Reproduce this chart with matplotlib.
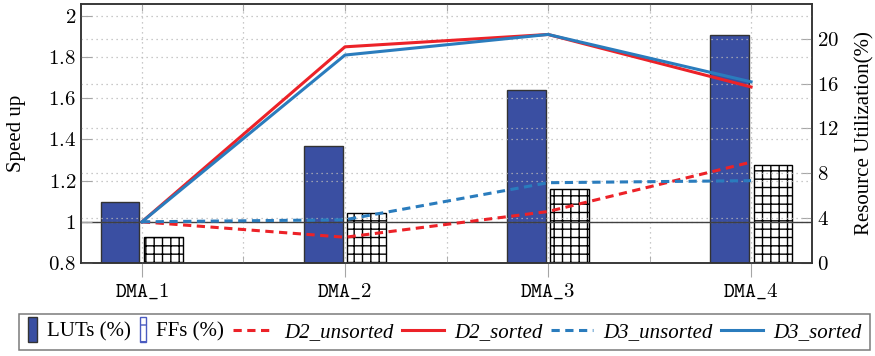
import matplotlib
matplotlib.use("Agg")
import matplotlib.pyplot as plt
import numpy as np
from matplotlib.patches import Rectangle
from matplotlib.legend_handler import HandlerBase

plt.rcParams['mathtext.fontset'] = 'cm'
plt.rcParams['font.family'] = ['Liberation Serif', 'DejaVu Serif']
plt.rcParams['hatch.linewidth'] = 1.0

# ---- data ----
designs = ["DMA_1", "DMA_2", "DMA_3", "DMA_4"]
luts_pct = [5.4, 10.4, 15.4, 20.3]
ffs_pct = [2.3, 4.5, 6.6, 8.7]
d2_unsorted = [1.0, 0.925, 1.05, 1.29]
d2_sorted = [1.0, 1.85, 1.91, 1.655]
d3_unsorted = [1.0, 1.01, 1.19, 1.20]
d3_sorted = [1.0, 1.81, 1.91, 1.68]
speed_ticks = [0.8, 1.0, 1.2, 1.4, 1.6, 1.8, 2.0]
util_ticks = [0, 4, 8, 12, 16, 20]

RED = "#ec2228"
BLUE = "#2a7cbd"
BAR_BLUE = "#3a4fa2"
GRID = dict(color="0.72", linestyle=(0, (1, 3)), linewidth=0.9)

fig = plt.figure(figsize=(8.75, 3.56), dpi=100)
ax = fig.add_axes([81 / 875, 1 - 263 / 356, (812 - 81) / 875, (263 - 4) / 356])
ax2 = ax.twinx()
ax.set_zorder(ax2.get_zorder() + 1)
ax.patch.set_visible(False)

x = np.arange(1, len(designs) + 1)
bw = 0.19
off = 0.107

# resource utilisation bars (right axis)
b_lut = ax2.bar(x - off, luts_pct, width=bw, color=BAR_BLUE, edgecolor="0.2",
                linewidth=1.0, zorder=2, label="LUTs (%)")
b_ff = ax2.bar(x + off, ffs_pct, width=bw, facecolor="white", edgecolor="black",
               hatch="++", linewidth=1.0, zorder=2, label="FFs (%)")

ax2.set_ylim(0, 23.1)
ax2.set_yticks(util_ticks)
ax2.set_yticklabels([f"${v}$" for v in util_ticks])
for v in util_ticks[1:]:
    ax2.axhline(v, zorder=3, **GRID)

# speed-up lines (left axis)
ax.axhline(1.0, color="0.25", linewidth=1.0, zorder=1)
dash = (0, (2.7, 1.8))
l1, = ax.plot(x, d2_unsorted, color=RED, lw=2.2, linestyle=dash, label="D2_unsorted", zorder=5)
l2, = ax.plot(x, d2_sorted, color=RED, lw=2.2, label="D2_sorted", zorder=5)
l3, = ax.plot(x, d3_unsorted, color=BLUE, lw=2.2, linestyle=dash, label="D3_unsorted", zorder=5)
l4, = ax.plot(x, d3_sorted, color=BLUE, lw=2.2, label="D3_sorted", zorder=5)

ax.set_xlim(0.7, 4.3)
ax.set_ylim(0.8, 2.058)
ax.set_yticks(speed_ticks)
ax.set_yticklabels(["$0.8$", "$1$", "$1.2$", "$1.4$", "$1.6$", "$1.8$", "$2$"])
for v in speed_ticks[1:]:
    ax.axhline(v, zorder=0.5, **GRID)
for v in np.arange(1.0, 4.01, 0.5):
    ax.axvline(v, zorder=0.5, **GRID)

ax.set_xticks(x)
ax.set_xticklabels([r"$\mathtt{" + d.replace("_", r"\_") + "}$" for d in designs])
ax.set_xticks([1.5, 2.5, 3.5], minor=True)
ax.tick_params(axis="x", which="major", direction="out", length=10, color="0.65",
               labelsize=15, pad=4)
ax.tick_params(axis="x", which="minor", direction="in", length=5, color="0.65")
ax.tick_params(axis="y", direction="in", length=8, color="0.65", labelsize=15)
ax2.tick_params(axis="y", direction="in", length=8, color="0.65", labelsize=15)

top = ax.secondary_xaxis("top")
top.set_xticks(np.arange(1.0, 4.01, 0.5))
top.tick_params(direction="in", length=5, color="0.65", labeltop=False)
top.spines["top"].set_visible(False)

for a in (ax, ax2):
    for s in a.spines.values():
        s.set_color("0.2")
        s.set_linewidth(1.1)

ax.set_ylabel("Speed up", fontsize=15, labelpad=16)
ax2.set_ylabel("Resource Utilization(%)", fontsize=15, labelpad=12)


class NarrowPatchHandler(HandlerBase):
    def __init__(self, face, edge, hatch=None, w=0.55):
        super().__init__()
        self.face, self.edge, self.hatch, self.w = face, edge, hatch, w

    def legend_artist(self, legend, orig_handle, fontsize, handlebox):
        w = self.w * fontsize
        h = 1.2 * fontsize
        handlebox.width = w
        r = Rectangle((0, -0.25 * fontsize), w, h, facecolor=self.face,
                      edgecolor=self.edge, hatch=self.hatch, linewidth=1.0,
                      transform=handlebox.get_transform())
        handlebox.add_artist(r)
        return r


handles = [b_lut, b_ff, l1, l2, l3, l4]
labels = ["LUTs (%)", "FFs (%)", "D2_unsorted", "D2_sorted", "D3_unsorted", "D3_sorted"]
leg = fig.legend(handles, labels, loc="upper center", bbox_to_anchor=(0.508, 0.118),
                 ncol=6, frameon=True, fancybox=False, edgecolor="0.35", fontsize=15,
                 handlelength=2.0, handletextpad=0.5, columnspacing=0.4,
                 borderpad=0.4, borderaxespad=0,
                 handler_map={b_lut: NarrowPatchHandler(BAR_BLUE, "0.2", w=0.45),
                              b_ff: NarrowPatchHandler("white", "#4a5bc0", "-", w=0.3)})
leg.get_frame().set_linewidth(1.1)
for t in leg.get_texts()[2:]:
    t.set_fontstyle("italic")

fig.savefig("out.png", dpi=100)
